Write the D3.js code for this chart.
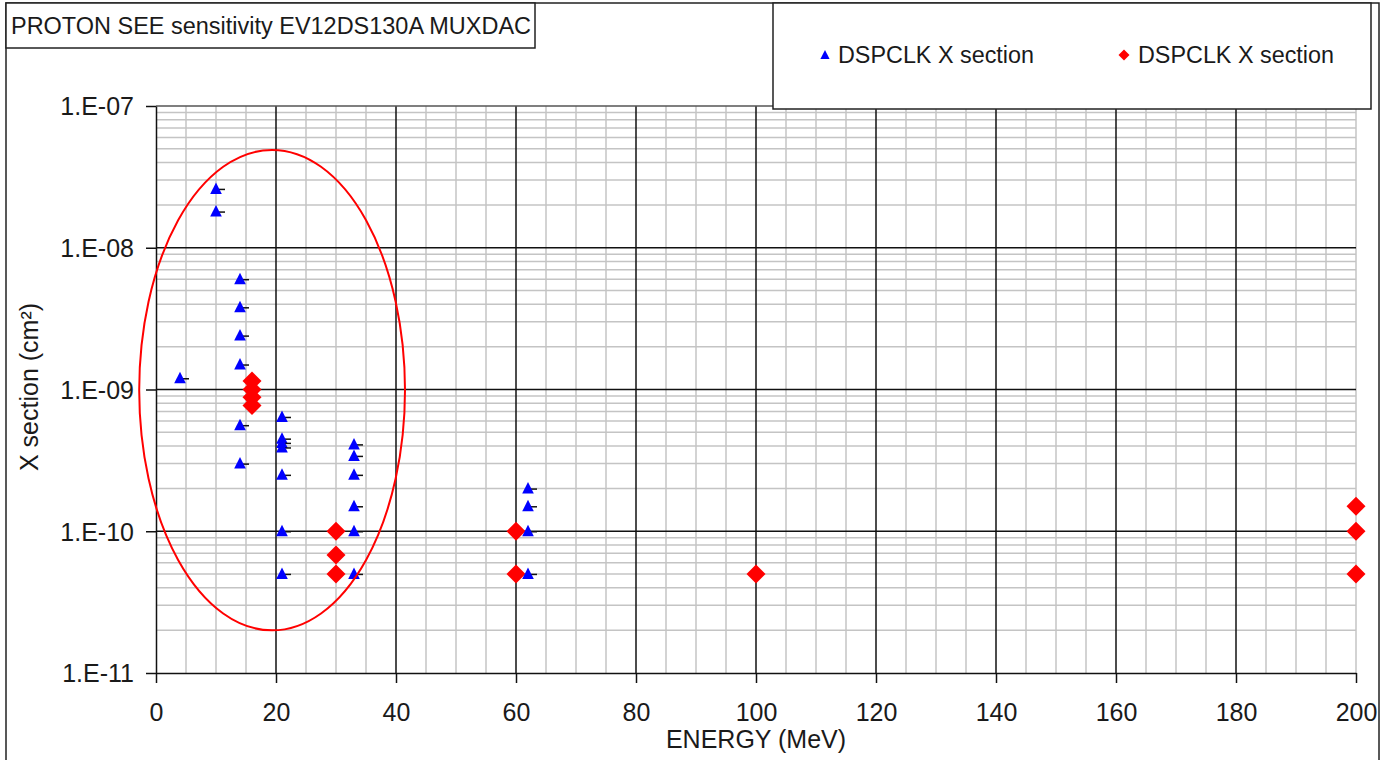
<!DOCTYPE html>
<html>
<head>
<meta charset="utf-8">
<script src="https://cdn.jsdelivr.net/npm/d3@7"></script>
<style>
  html, body { margin: 0; padding: 0; background: #fff; }
  svg { display: block; }
  text { font-family: "Liberation Sans", Arial, Helvetica, sans-serif; fill: #1a1a1a; }
</style>
</head>
<body>
<svg id="chart" width="1389" height="760"></svg>
<script>
// Proton SEE cross-section measurements (energy in MeV, cross-section in cm²)
const blueEnergy = [4, 10, 10, 14, 14, 14, 14, 14, 14,
                    21, 21, 21, 21, 21, 21, 21,
                    33, 33, 33, 33, 33, 33,
                    62, 62, 62, 62];
const blueXsec   = [1.2e-9, 2.6e-8, 1.8e-8, 6.0e-9, 3.8e-9, 2.4e-9, 1.5e-9, 5.6e-10, 3.0e-10,
                    6.4e-10, 4.5e-10, 4.2e-10, 3.9e-10, 2.5e-10, 1.0e-10, 5.0e-11,
                    4.1e-10, 3.4e-10, 2.5e-10, 1.5e-10, 1.0e-10, 5.0e-11,
                    2.0e-10, 1.5e-10, 1.0e-10, 5.0e-11];

const redEnergy = [16, 16, 16, 16, 30, 30, 30, 60, 60, 100, 200, 200, 200];
const redXsec   = [1.15e-9, 1.0e-9, 8.8e-10, 7.7e-10, 1.0e-10, 6.8e-11, 5.0e-11,
                   1.0e-10, 5.0e-11, 5.0e-11, 1.5e-10, 1.0e-10, 5.0e-11];

const seriesNames = ["DSPCLK X section", "DSPCLK X section"];
const titleText = "PROTON SEE sensitivity EV12DS130A MUXDAC";
const xTickValues = [0, 20, 40, 60, 80, 100, 120, 140, 160, 180, 200];
const yTickValues = [1e-7, 1e-8, 1e-9, 1e-10, 1e-11];
const xLabel = "ENERGY (MeV)";
const yLabel = "X section (cm²)";

// Highlight ring around the low-energy cluster, in data units
const ringEnergy = [-2.8, 41.5];
const ringXsec = [2e-11, 4.9e-8];

const svg = d3.select("#chart");
const plot = { left: 156, right: 1356, top: 106, bottom: 673 };

const x = d3.scaleLinear().domain([0, 200]).range([plot.left, plot.right]);
const y = d3.scaleLog().domain([1e-11, 1e-7]).range([plot.bottom, plot.top]);

// Outer frame
svg.append("rect")
  .attr("x", 6).attr("y", 3).attr("width", 1373).attr("height", 780)
  .attr("fill", "none").attr("stroke", "#222").attr("stroke-width", 1.5);

// Minor grid: every 5 MeV, and 2..9 within each decade
const xMinor = d3.range(5, 201, 5).filter(v => v % 20 !== 0 || v === 200);
const yMinor = [];
[-11, -10, -9, -8].forEach(e => { for (let m = 2; m <= 9; m++) yMinor.push(m * Math.pow(10, e)); });

const grid = svg.append("g");
grid.selectAll(".xm").data(xMinor).join("line")
  .attr("x1", d => x(d)).attr("x2", d => x(d))
  .attr("y1", plot.top).attr("y2", plot.bottom)
  .attr("stroke", "#c4c4c4").attr("stroke-width", 1.5);
grid.selectAll(".ym").data(yMinor).join("line")
  .attr("x1", plot.left).attr("x2", plot.right)
  .attr("y1", d => y(d)).attr("y2", d => y(d))
  .attr("stroke", "#c4c4c4").attr("stroke-width", 1.5);

// Major grid
grid.selectAll(".xM").data(xTickValues.filter(v => v > 0 && v < 200)).join("line")
  .attr("x1", d => x(d)).attr("x2", d => x(d))
  .attr("y1", plot.top).attr("y2", plot.bottom)
  .attr("stroke", "#111").attr("stroke-width", 1.5);
grid.selectAll(".yM").data(yTickValues.filter(v => v > 1e-11)).join("line")
  .attr("x1", plot.left).attr("x2", plot.right)
  .attr("y1", d => y(d)).attr("y2", d => y(d))
  .attr("stroke", d => d === 1e-7 ? "#555" : "#111").attr("stroke-width", 1.5);

// Axes
const fmtExp = v => "1.E-" + String(-Math.round(Math.log10(v))).padStart(2, "0");

const xAxis = svg.append("g")
  .attr("transform", `translate(0,${plot.bottom})`)
  .call(d3.axisBottom(x).tickValues(xTickValues).tickSize(10).tickSizeOuter(0).tickPadding(20));
const yAxis = svg.append("g")
  .attr("transform", `translate(${plot.left},0)`)
  .call(d3.axisLeft(y).tickValues(yTickValues).tickFormat(fmtExp).tickSize(10).tickSizeOuter(0).tickPadding(12));

[xAxis, yAxis].forEach(a => {
  a.selectAll("path.domain").attr("stroke", "#111").attr("stroke-width", 1.5);
  a.selectAll(".tick line").attr("stroke", "#111").attr("stroke-width", 1.5);
  a.selectAll(".tick text")
    .style("font-family", '"Liberation Sans", Arial, Helvetica, sans-serif')
    .style("font-size", "25px").attr("fill", "#1a1a1a");
});
yAxis.selectAll(".tick text").attr("dy", "0.35em");
xAxis.selectAll(".tick text").attr("dy", "0.71em");

// Axis titles
svg.append("text")
  .attr("x", x(100)).attr("y", 748)
  .attr("text-anchor", "middle").style("font-size", "25px")
  .text(xLabel);
svg.append("text")
  .attr("transform", `translate(38,387) rotate(-90)`)
  .attr("text-anchor", "middle").style("font-size", "25px")
  .text(yLabel);

// Marker shapes
const triPath = "M0,-6.5L5.8,5L-5.8,5Z";
const diaPath = r => `M0,${-r}L${r},0L0,${r}L${-r},0Z`;

// Red diamond series
const redData = redEnergy.map((e, i) => ({ e, v: redXsec[i] }));
svg.append("g").selectAll("path").data(redData).join("path")
  .attr("transform", d => `translate(${x(d.e)},${y(d.v)})`)
  .attr("d", diaPath(9.5))
  .attr("fill", "#ff0000");

// Blue triangle series with short error-bar stub
const blueData = blueEnergy.map((e, i) => ({ e, v: blueXsec[i] }));
const bg = svg.append("g").selectAll("g").data(blueData).join("g")
  .attr("transform", d => `translate(${x(d.e)},${y(d.v)})`);
bg.append("line")
  .attr("x1", 3).attr("x2", 9).attr("y1", 0.5).attr("y2", 0.5)
  .attr("stroke", "#111").attr("stroke-width", 1.5);
bg.append("path").attr("d", triPath).attr("fill", "#0000ff");

// Highlight ring
svg.append("ellipse")
  .attr("cx", (x(ringEnergy[0]) + x(ringEnergy[1])) / 2)
  .attr("cy", (y(ringXsec[0]) + y(ringXsec[1])) / 2)
  .attr("rx", (x(ringEnergy[1]) - x(ringEnergy[0])) / 2)
  .attr("ry", (y(ringXsec[0]) - y(ringXsec[1])) / 2)
  .attr("fill", "none").attr("stroke", "#ff0000").attr("stroke-width", 2);

// Title box
svg.append("rect")
  .attr("x", 6).attr("y", 3).attr("width", 529).attr("height", 45)
  .attr("fill", "#fff").attr("stroke", "#222").attr("stroke-width", 1.5);
svg.append("text")
  .attr("x", 11).attr("y", 34)
  .style("font-size", "23px")
  .attr("textLength", 520).attr("lengthAdjust", "spacingAndGlyphs")
  .text(titleText);

// Legend box
svg.append("rect")
  .attr("x", 773).attr("y", 3).attr("width", 598).attr("height", 106)
  .attr("fill", "#fff").attr("stroke", "#222").attr("stroke-width", 1.5);
const legend = svg.append("g");
legend.append("path")
  .attr("transform", "translate(825,55)")
  .attr("d", "M0,-5L4.6,4L-4.6,4Z").attr("fill", "#0000ff");
legend.append("path")
  .attr("transform", "translate(1124,55)")
  .attr("d", diaPath(5.5)).attr("fill", "#ff0000");
legend.selectAll("text").data(seriesNames).join("text")
  .attr("x", (d, i) => i === 0 ? 838 : 1138)
  .attr("y", 63)
  .style("font-size", "23.5px")
  .attr("textLength", 196).attr("lengthAdjust", "spacingAndGlyphs")
  .text(d => d);
</script>
</body>
</html>
